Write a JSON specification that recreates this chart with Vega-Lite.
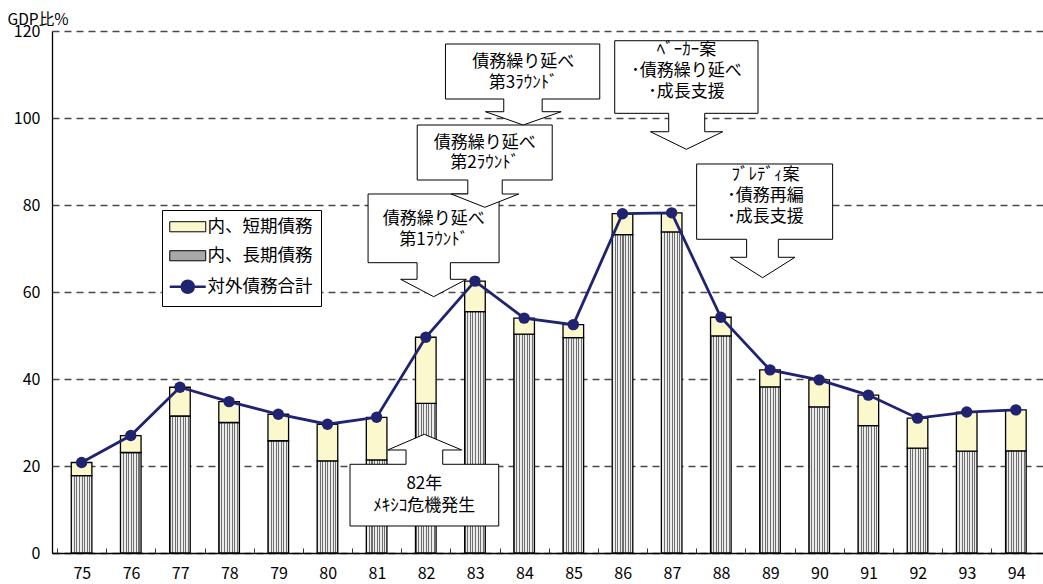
{
  "$schema": "https://vega.github.io/schema/vega-lite/v6.json",
  "width": 991,
  "height": 522,
  "autosize": "none",
  "padding": {"left": 52, "top": 31, "right": 0, "bottom": 31},
  "background": "white",
  "config": {"view": {"stroke": null}, "font": "Noto Sans CJK JP"},
  "params": [
    {"name": "stripes", "value": {"gradient": "linear", "x1": 0, "y1": 0, "x2": 1, "y2": 0, "stops": [
      {"offset": 0, "color": "#6f6f6f"}, {"offset": 0.05, "color": "#6f6f6f"}, {"offset": 0.05, "color": "#ececec"}, {"offset": 0.125, "color": "#ececec"},
      {"offset": 0.125, "color": "#6f6f6f"}, {"offset": 0.175, "color": "#6f6f6f"}, {"offset": 0.175, "color": "#ececec"}, {"offset": 0.25, "color": "#ececec"},
      {"offset": 0.25, "color": "#6f6f6f"}, {"offset": 0.3, "color": "#6f6f6f"}, {"offset": 0.3, "color": "#ececec"}, {"offset": 0.375, "color": "#ececec"},
      {"offset": 0.375, "color": "#6f6f6f"}, {"offset": 0.425, "color": "#6f6f6f"}, {"offset": 0.425, "color": "#ececec"}, {"offset": 0.5, "color": "#ececec"},
      {"offset": 0.5, "color": "#6f6f6f"}, {"offset": 0.55, "color": "#6f6f6f"}, {"offset": 0.55, "color": "#ececec"}, {"offset": 0.625, "color": "#ececec"},
      {"offset": 0.625, "color": "#6f6f6f"}, {"offset": 0.675, "color": "#6f6f6f"}, {"offset": 0.675, "color": "#ececec"}, {"offset": 0.75, "color": "#ececec"},
      {"offset": 0.75, "color": "#6f6f6f"}, {"offset": 0.8, "color": "#6f6f6f"}, {"offset": 0.8, "color": "#ececec"}, {"offset": 0.875, "color": "#ececec"},
      {"offset": 0.875, "color": "#6f6f6f"}, {"offset": 0.925, "color": "#6f6f6f"}, {"offset": 0.925, "color": "#ececec"}, {"offset": 1, "color": "#ececec"}
    ]}}
  ],
  "data": {
    "values": [
      {"year": 75, "long": 17.8, "total": 20.8},
      {"year": 76, "long": 23.1, "total": 27.0},
      {"year": 77, "long": 31.5, "total": 38.1},
      {"year": 78, "long": 30.0, "total": 34.8},
      {"year": 79, "long": 25.8, "total": 31.9},
      {"year": 80, "long": 21.2, "total": 29.6},
      {"year": 81, "long": 21.4, "total": 31.2},
      {"year": 82, "long": 34.4, "total": 49.6},
      {"year": 83, "long": 55.5, "total": 62.5},
      {"year": 84, "long": 50.3, "total": 54.0},
      {"year": 85, "long": 49.5, "total": 52.5},
      {"year": 86, "long": 73.2, "total": 78.0},
      {"year": 87, "long": 73.8, "total": 78.2},
      {"year": 88, "long": 49.9, "total": 54.2},
      {"year": 89, "long": 38.2, "total": 42.1},
      {"year": 90, "long": 33.6, "total": 39.8},
      {"year": 91, "long": 29.3, "total": 36.3},
      {"year": 92, "long": 24.1, "total": 31.0},
      {"year": 93, "long": 23.4, "total": 32.4},
      {"year": 94, "long": 23.5, "total": 32.9}
    ]
  },
  "layer": [
    {
      "mark": {"type": "bar", "width": 20.6, "stroke": "black", "strokeWidth": 1.3, "opacity": 1,
        "fill": {"gradient": "linear", "x1": 0, "y1": 0, "x2": 1, "y2": 0, "stops": [
          {"offset": 0, "color": "#6f6f6f"}, {"offset": 0.05, "color": "#6f6f6f"}, {"offset": 0.05, "color": "#ececec"}, {"offset": 0.125, "color": "#ececec"},
          {"offset": 0.125, "color": "#6f6f6f"}, {"offset": 0.175, "color": "#6f6f6f"}, {"offset": 0.175, "color": "#ececec"}, {"offset": 0.25, "color": "#ececec"},
          {"offset": 0.25, "color": "#6f6f6f"}, {"offset": 0.3, "color": "#6f6f6f"}, {"offset": 0.3, "color": "#ececec"}, {"offset": 0.375, "color": "#ececec"},
          {"offset": 0.375, "color": "#6f6f6f"}, {"offset": 0.425, "color": "#6f6f6f"}, {"offset": 0.425, "color": "#ececec"}, {"offset": 0.5, "color": "#ececec"},
          {"offset": 0.5, "color": "#6f6f6f"}, {"offset": 0.55, "color": "#6f6f6f"}, {"offset": 0.55, "color": "#ececec"}, {"offset": 0.625, "color": "#ececec"},
          {"offset": 0.625, "color": "#6f6f6f"}, {"offset": 0.675, "color": "#6f6f6f"}, {"offset": 0.675, "color": "#ececec"}, {"offset": 0.75, "color": "#ececec"},
          {"offset": 0.75, "color": "#6f6f6f"}, {"offset": 0.8, "color": "#6f6f6f"}, {"offset": 0.8, "color": "#ececec"}, {"offset": 0.875, "color": "#ececec"},
          {"offset": 0.875, "color": "#6f6f6f"}, {"offset": 0.925, "color": "#6f6f6f"}, {"offset": 0.925, "color": "#ececec"}, {"offset": 1, "color": "#ececec"}
        ]}},
      "encoding": {
        "x": {
          "field": "year", "type": "quantitative",
          "scale": {"domain": [74.5, 94.45], "nice": false, "zero": false},
          "axis": {
            "values": [74.5, 75.5, 76.5, 77.5, 78.5, 79.5, 80.5, 81.5, 82.5, 83.5, 84.5, 85.5, 86.5, 87.5, 88.5, 89.5, 90.5, 91.5, 92.5, 93.5],
            "labelExpr": "format(datum.value + 0.5, 'd')",
            "labelOffset": 24.84,
            "labelFlush": false,
            "labelOverlap": false,
            "labelBound": false,
            "title": null,
            "grid": false,
            "domainColor": "black",
            "domainWidth": 1.3,
            "tickColor": "#333",
            "tickSize": -5,
            "tickWidth": 1,
            "labelFontSize": 16,
            "labelColor": "black",
            "labelPadding": 17
          }
        },
        "y": {
          "field": "long", "type": "quantitative", "stack": null,
          "scale": {"domain": [0, 120], "nice": false},
          "axis": {
            "values": [0, 20, 40, 60, 80, 100, 120],
            "title": "GDP比%",
            "titleAngle": 0,
            "titleAlign": "left",
            "titleBaseline": "alphabetic",
            "titleX": -45,
            "titleY": -7,
            "titleFontSize": 15.5,
            "titleFontWeight": "normal",
            "titleColor": "black",
            "grid": true,
            "gridDash": [7, 5],
            "gridColor": "#4a4a4a",
            "gridWidth": 1.4,
            "ticks": false,
            "domainColor": "black",
            "domainWidth": 1.3,
            "labelPadding": 12,
            "labelFontSize": 16,
            "labelColor": "black"
          }
        }
      }
    },
    {
      "mark": {"type": "bar", "width": 20.6, "stroke": "black", "strokeWidth": 1.3, "opacity": 1},
      "encoding": {
        "x": {"field": "year", "type": "quantitative"},
        "y": {"field": "long", "type": "quantitative"},
        "y2": {"field": "total"},
        "fill": {
          "datum": "内、短期債務", "type": "nominal",
          "scale": {
            "domain": ["内、短期債務", "内、長期債務", "対外債務合計"],
            "range": ["#fbf8cd", "#a8a8a8", "#1f2370"]
          },
          "legend": {
            "orient": "none",
            "legendX": 110,
            "legendY": 179,
            "title": null,
            "padding": 8,
            "strokeColor": "black",
            "fillColor": "white",
            "symbolSize": 576,
            "symbolType": "M-0.75,-0.42H2.25V0.42H-0.75Z",
            "symbolOpacity": 1,
            "symbolStrokeColor": "black",
            "symbolStrokeWidth": 1,
            "labelOffset": 20,
            "rowPadding": 10,
            "labelFontSize": 17.5,
            "labelFont": "Noto Sans CJK JP",
            "labelColor": "black",
            "labelLimit": 300,
            "encode": {
              "symbols": {
                "update": {
                  "shape": {"signal": "datum.value === '対外債務合計' ? 'M-0.75,0H2.25M0.25,0A0.5,0.5 0 1,0 1.25,0A0.5,0.5 0 1,0 0.25,0Z' : 'M-0.75,-0.42H2.25V0.42H-0.75Z'"},
                  "fill": {"signal": "datum.value === '内、長期債務' ? stripes : scale('fill', datum.value)"},
                  "stroke": {"signal": "datum.value === '対外債務合計' ? '#1f2370' : 'black'"},
                  "strokeWidth": {"signal": "datum.value === '対外債務合計' ? 2.5 : 1"},
                  "opacity": {"value": 1}
                }
              }
            }
          }
        }
      }
    },
    {
      "mark": {"type": "line", "stroke": "#1f2370", "strokeWidth": 2.8},
      "encoding": {
        "x": {"field": "year", "type": "quantitative"},
        "y": {"field": "total", "type": "quantitative"}
      }
    },
    {
      "mark": {"type": "point", "filled": true, "size": 130, "opacity": 1, "strokeWidth": 0},
      "encoding": {
        "x": {"field": "year", "type": "quantitative"},
        "y": {"field": "total", "type": "quantitative"},
        "fill": {"datum": "対外債務合計", "type": "nominal"}
      }
    },
    {
      "data": {"values": [{}]},
      "mark": {"type": "point", "shape": "M0,0L37.4,15.7H18.4V30H74.4V91.7H-74.3V30H-18.3V15.7H-36.6Z", "size": 4, "filled": true, "fill": "white", "stroke": "black", "strokeWidth": 1, "opacity": 1},
      "encoding": {"x": {"datum": 81.97, "type": "quantitative"}, "y": {"datum": 27.29, "type": "quantitative"}}
    },
    {
      "data": {"values": [{}]},
      "mark": {"type": "point", "shape": "M-65.6,-102.7H65.4V-34H16.7V-17.4H32.7L0,0L-33,-17.4H-16.6V-34H-65.6Z", "size": 4, "filled": true, "fill": "white", "stroke": "black", "strokeWidth": 1, "opacity": 1},
      "encoding": {"x": {"datum": 82.16, "type": "quantitative"}, "y": {"datum": 58.92, "type": "quantitative"}}
    },
    {
      "data": {"values": [{}]},
      "mark": {"type": "point", "shape": "M-66,-113.7H70V-38.4H15.7V-20.4H32.3L0,0L-32.3,-20.4H-16V-38.4H-66Z", "size": 4, "filled": true, "fill": "white", "stroke": "black", "strokeWidth": 1, "opacity": 1},
      "encoding": {"x": {"datum": 88.85, "type": "quantitative"}, "y": {"datum": 63.29, "type": "quantitative"}}
    },
    {
      "data": {"values": [{}]},
      "mark": {"type": "point", "shape": "M-67.6,-82.3H67.4V-27.3H17.4V-13.3H34L0,0L-33.6,-13.3H-17V-27.3H-67.6Z", "size": 4, "filled": true, "fill": "white", "stroke": "black", "strokeWidth": 1, "opacity": 1},
      "encoding": {"x": {"datum": 83.2, "type": "quantitative"}, "y": {"datum": 79.47, "type": "quantitative"}}
    },
    {
      "data": {"values": [{}]},
      "mark": {"type": "point", "shape": "M-71.7,-108.6H71.6V-36H18.3V-17.6H36.3L0,0L-36,-17.6H-17.7V-36H-71.7Z", "size": 4, "filled": true, "fill": "white", "stroke": "black", "strokeWidth": 1, "opacity": 1},
      "encoding": {"x": {"datum": 87.3, "type": "quantitative"}, "y": {"datum": 92.8, "type": "quantitative"}}
    },
    {
      "data": {"values": [{}]},
      "mark": {"type": "point", "shape": "M-77.7,-81H76.6V-26H19V-13.3H38L0,0L-37.7,-13.3H-19.4V-26H-77.7Z", "size": 4, "filled": true, "fill": "white", "stroke": "black", "strokeWidth": 1, "opacity": 1},
      "encoding": {"x": {"datum": 83.98, "type": "quantitative"}, "y": {"datum": 98.39, "type": "quantitative"}}
    },
    {
      "data": {"values": [{}]},
      "mark": {"type": "text", "text": ["債務繰り延べ", "第3ﾗｳﾝﾄﾞ"], "fontSize": 17, "lineHeight": 21, "align": "center", "baseline": "middle", "font": "Noto Sans CJK JP", "color": "black"},
      "encoding": {"x": {"datum": 83.98, "type": "quantitative"}, "y": {"datum": 112.94, "type": "quantitative"}}
    },
    {
      "data": {"values": [{}]},
      "mark": {"type": "text", "text": ["ﾍﾞｰｶｰ案", "･債務繰り延べ", "･成長支援"], "fontSize": 17, "lineHeight": 21, "align": "center", "baseline": "middle", "font": "Noto Sans CJK JP", "color": "black"},
      "encoding": {"x": {"datum": 87.3, "type": "quantitative"}, "y": {"datum": 115.6, "type": "quantitative"}}
    },
    {
      "data": {"values": [{}]},
      "mark": {"type": "text", "text": ["債務繰り延べ", "第2ﾗｳﾝﾄﾞ"], "fontSize": 17, "lineHeight": 20.5, "align": "center", "baseline": "middle", "font": "Noto Sans CJK JP", "color": "black"},
      "encoding": {"x": {"datum": 83.2, "type": "quantitative"}, "y": {"datum": 94.3, "type": "quantitative"}}
    },
    {
      "data": {"values": [{}]},
      "mark": {"type": "text", "text": ["債務繰り延べ", "第1ﾗｳﾝﾄﾞ"], "fontSize": 17, "lineHeight": 21, "align": "center", "baseline": "middle", "font": "Noto Sans CJK JP", "color": "black"},
      "encoding": {"x": {"datum": 82.16, "type": "quantitative"}, "y": {"datum": 76.71, "type": "quantitative"}}
    },
    {
      "data": {"values": [{}]},
      "mark": {"type": "text", "text": ["ﾌﾞﾚﾃﾞｨ案", "･債務再編", "･成長支援"], "fontSize": 17, "lineHeight": 21, "align": "center", "baseline": "middle", "font": "Noto Sans CJK JP", "color": "black"},
      "encoding": {"x": {"datum": 88.91, "type": "quantitative"}, "y": {"datum": 86.9, "type": "quantitative"}}
    },
    {
      "data": {"values": [{}]},
      "mark": {"type": "text", "text": ["82年", "ﾒｷｼｺ危機発生"], "fontSize": 17, "lineHeight": 22, "align": "center", "baseline": "middle", "font": "Noto Sans CJK JP", "color": "black"},
      "encoding": {"x": {"datum": 81.97, "type": "quantitative"}, "y": {"datum": 15.79, "type": "quantitative"}}
    }
  ]
}
